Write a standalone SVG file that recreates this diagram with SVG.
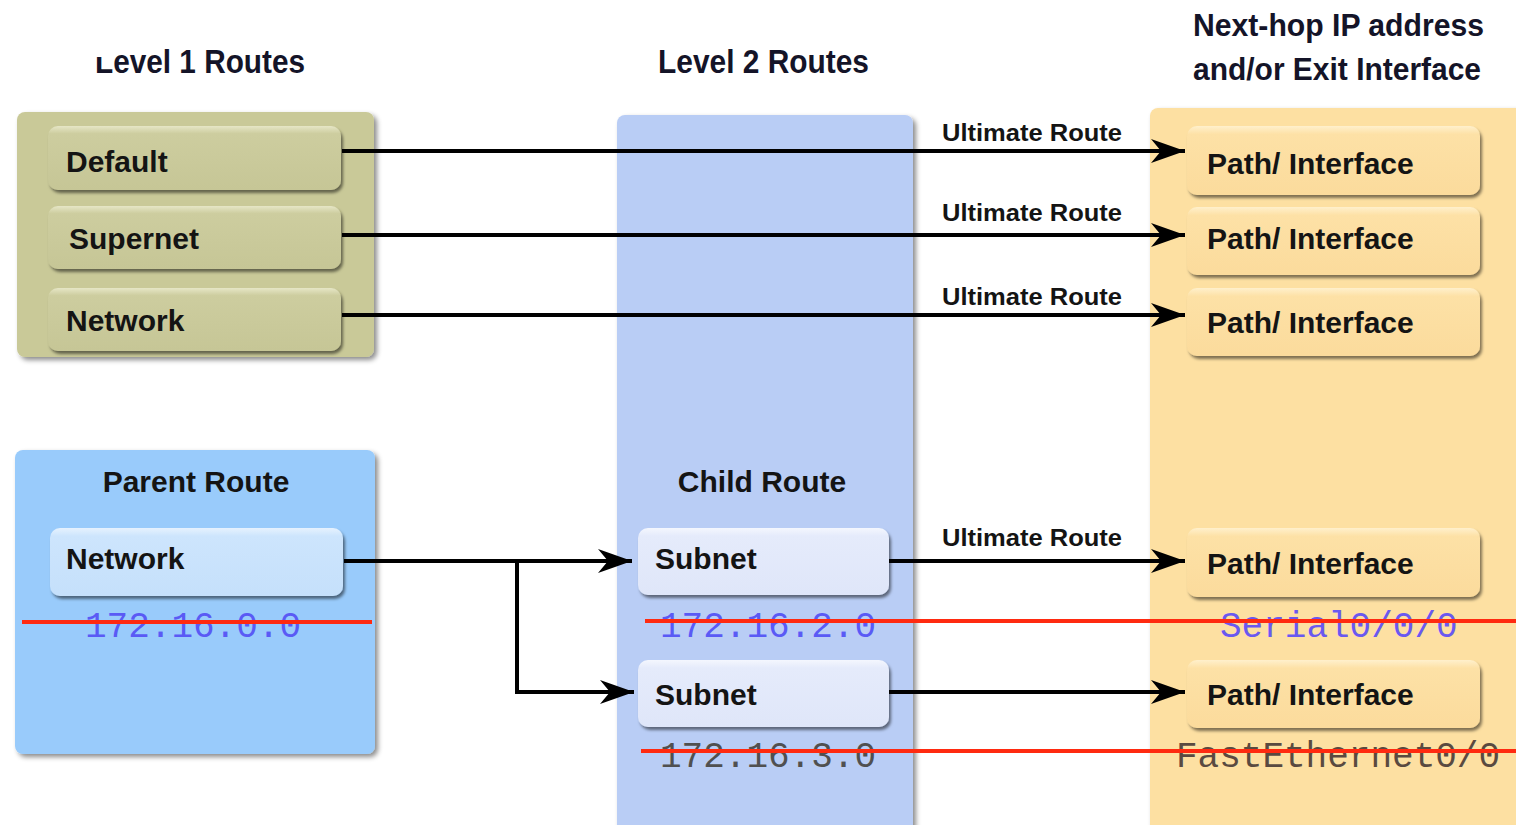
<svg xmlns="http://www.w3.org/2000/svg" width="1516" height="825" viewBox="0 0 1516 825">
  <defs>
    <style>
      .hdr { font-family: "Liberation Sans", Arial, sans-serif; font-weight: bold; font-size: 34px; fill: #141428; }
      .hdr-sm { font-size: 32px; }
      .lbl { font-family: "Liberation Sans", Arial, sans-serif; font-weight: bold; font-size: 30px; fill: #141414; }
      .ult { font-family: "Liberation Sans", Arial, sans-serif; font-weight: bold; font-size: 24px; fill: #141414; }
      .mono { font-family: "Liberation Mono", "Courier New", monospace; font-size: 36px; }
      .ip { fill: #5a5af5; }
      .ip2 { fill: #505050; }
      .conn { fill: none; stroke: #000; stroke-width: 4; }
      .strike { stroke: #ff2a10; stroke-width: 4; }
    </style>
    <filter id="panelShadow" x="-5%" y="-5%" width="112%" height="112%">
      <feDropShadow dx="3" dy="3" stdDeviation="2.5" flood-color="#000" flood-opacity="0.45"/>
    </filter>
    <filter id="btnShadow" x="-5%" y="-10%" width="112%" height="130%">
      <feDropShadow dx="2" dy="3" stdDeviation="1.5" flood-color="#000" flood-opacity="0.5"/>
    </filter>
    <linearGradient id="gOlive" x1="0" y1="0" x2="0" y2="1">
      <stop offset="0" stop-color="#e6e6c6"/>
      <stop offset="0.12" stop-color="#cdcd9f"/>
      <stop offset="1" stop-color="#c6c696"/>
    </linearGradient>
    <linearGradient id="gSky" x1="0" y1="0" x2="0" y2="1">
      <stop offset="0" stop-color="#e6f2fe"/>
      <stop offset="0.12" stop-color="#cde5fd"/>
      <stop offset="1" stop-color="#c5e0fb"/>
    </linearGradient>
    <linearGradient id="gLav" x1="0" y1="0" x2="0" y2="1">
      <stop offset="0" stop-color="#f4f7fe"/>
      <stop offset="0.12" stop-color="#e5ebfb"/>
      <stop offset="1" stop-color="#dfe6f9"/>
    </linearGradient>
    <linearGradient id="gSand" x1="0" y1="0" x2="0" y2="1">
      <stop offset="0" stop-color="#fff0cc"/>
      <stop offset="0.12" stop-color="#fde1a6"/>
      <stop offset="1" stop-color="#fbdb9c"/>
    </linearGradient>
    <marker id="arrow" markerUnits="userSpaceOnUse" viewBox="0 0 40 30" markerWidth="40" markerHeight="30" refX="37" refY="15" orient="auto">
      <path d="M37,15 L3,3 L13,15 L3,27 Z" fill="#000"/>
    </marker>
    <clipPath id="titleClip">
      <rect x="0" y="57" width="116" height="40"/>
      <rect x="116" y="0" width="300" height="100"/>
    </clipPath>
  </defs>

  <rect width="1516" height="825" fill="#fff"/>

  <!-- column headings -->
  <g id="headings">
    <text class="hdr" x="95" y="73" textLength="210" lengthAdjust="spacingAndGlyphs" clip-path="url(#titleClip)">Level 1 Routes</text>
    <text class="hdr" x="658" y="73" textLength="211" lengthAdjust="spacingAndGlyphs">Level 2 Routes</text>
    <text class="hdr hdr-sm" x="1193" y="36" textLength="291" lengthAdjust="spacingAndGlyphs">Next-hop IP address</text>
    <text class="hdr hdr-sm" x="1193" y="80" textLength="288" lengthAdjust="spacingAndGlyphs">and/or Exit Interface</text>
  </g>

  <!-- level 1 routes panel -->
  <g id="level1">
    <rect x="17" y="112" width="357" height="245" rx="8" fill="#c9c998" filter="url(#panelShadow)"/>
    <g id="l1-default">
      <rect x="48" y="126" width="293" height="64" rx="10" fill="url(#gOlive)" filter="url(#btnShadow)"/>
      <text class="lbl" x="66" y="172">Default</text>
    </g>
    <g id="l1-supernet">
      <rect x="48" y="206" width="293" height="63" rx="10" fill="url(#gOlive)" filter="url(#btnShadow)"/>
      <text class="lbl" x="69" y="249">Supernet</text>
    </g>
    <g id="l1-network">
      <rect x="48" y="288" width="293" height="63" rx="10" fill="url(#gOlive)" filter="url(#btnShadow)"/>
      <text class="lbl" x="66" y="331">Network</text>
    </g>
  </g>

  <!-- parent route panel -->
  <g id="parent">
    <rect x="15" y="450" width="360" height="304" rx="8" fill="#99cbfb" filter="url(#panelShadow)"/>
    <text class="lbl" x="196" y="492" text-anchor="middle">Parent Route</text>
    <g id="parent-network">
      <rect x="50" y="528" width="293" height="68" rx="10" fill="url(#gSky)" filter="url(#btnShadow)"/>
      <text class="lbl" x="66" y="569">Network</text>
    </g>
    <text class="mono ip" x="85" y="637">172.16.0.0</text>
  </g>

  <!-- level 2 routes panel -->
  <g id="level2">
    <rect x="617" y="115" width="296" height="720" rx="8" fill="#b9cdf5" filter="url(#panelShadow)"/>
    <text class="lbl" x="762" y="492" text-anchor="middle">Child Route</text>
    <g id="child-subnet-1">
      <rect x="638" y="528" width="251" height="67" rx="10" fill="url(#gLav)" filter="url(#btnShadow)"/>
      <text class="lbl" x="655" y="569">Subnet</text>
    </g>
    <text class="mono ip" x="660" y="637">172.16.2.0</text>
    <g id="child-subnet-2">
      <rect x="638" y="660" width="251" height="67" rx="10" fill="url(#gLav)" filter="url(#btnShadow)"/>
      <text class="lbl" x="655" y="705">Subnet</text>
    </g>
    <text class="mono ip2" x="660" y="767">172.16.3.0</text>
  </g>

  <!-- next hop / exit interface panel -->
  <g id="nexthop">
    <rect x="1150" y="108" width="380" height="730" rx="8" fill="#fde0a2" filter="url(#panelShadow)"/>
    <g id="path-1">
      <rect x="1187" y="126" width="293" height="69" rx="10" fill="url(#gSand)" filter="url(#btnShadow)"/>
      <text class="lbl" x="1207" y="174">Path/ Interface</text>
    </g>
    <g id="path-2">
      <rect x="1187" y="207" width="293" height="68" rx="10" fill="url(#gSand)" filter="url(#btnShadow)"/>
      <text class="lbl" x="1207" y="249">Path/ Interface</text>
    </g>
    <g id="path-3">
      <rect x="1187" y="288" width="293" height="68" rx="10" fill="url(#gSand)" filter="url(#btnShadow)"/>
      <text class="lbl" x="1207" y="333">Path/ Interface</text>
    </g>
    <g id="path-4">
      <rect x="1187" y="528" width="293" height="69" rx="10" fill="url(#gSand)" filter="url(#btnShadow)"/>
      <text class="lbl" x="1207" y="574">Path/ Interface</text>
    </g>
    <text class="mono" x="1220" y="637" fill="#6a58f0">Serial0/0/0</text>
    <g id="path-5">
      <rect x="1187" y="660" width="293" height="68" rx="10" fill="url(#gSand)" filter="url(#btnShadow)"/>
      <text class="lbl" x="1207" y="705">Path/ Interface</text>
    </g>
    <text class="mono" x="1176" y="767" fill="#5a4a40">FastEthernet0/0</text>
  </g>

  <!-- connectors -->
  <g id="connectors">
    <line class="conn" x1="342" y1="151" x2="1185" y2="151" marker-end="url(#arrow)"/>
    <line class="conn" x1="342" y1="235" x2="1185" y2="235" marker-end="url(#arrow)"/>
    <line class="conn" x1="342" y1="315" x2="1185" y2="315" marker-end="url(#arrow)"/>
    <line class="conn" x1="344" y1="561" x2="632" y2="561" marker-end="url(#arrow)"/>
    <polyline class="conn" points="517,561 517,692 634,692" marker-end="url(#arrow)"/>
    <line class="conn" x1="889" y1="561" x2="1185" y2="561" marker-end="url(#arrow)"/>
    <line class="conn" x1="889" y1="692" x2="1185" y2="692" marker-end="url(#arrow)"/>
    <text class="ult" x="942" y="141" textLength="180" lengthAdjust="spacingAndGlyphs">Ultimate Route</text>
    <text class="ult" x="942" y="221" textLength="180" lengthAdjust="spacingAndGlyphs">Ultimate Route</text>
    <text class="ult" x="942" y="305" textLength="180" lengthAdjust="spacingAndGlyphs">Ultimate Route</text>
    <text class="ult" x="942" y="546" textLength="180" lengthAdjust="spacingAndGlyphs">Ultimate Route</text>
  </g>

  <!-- red strike lines -->
  <g id="strikes">
    <line class="strike" x1="22" y1="622" x2="372" y2="622"/>
    <line class="strike" x1="645" y1="621" x2="1516" y2="621"/>
    <line class="strike" x1="641" y1="751" x2="1516" y2="751"/>
  </g>
</svg>
